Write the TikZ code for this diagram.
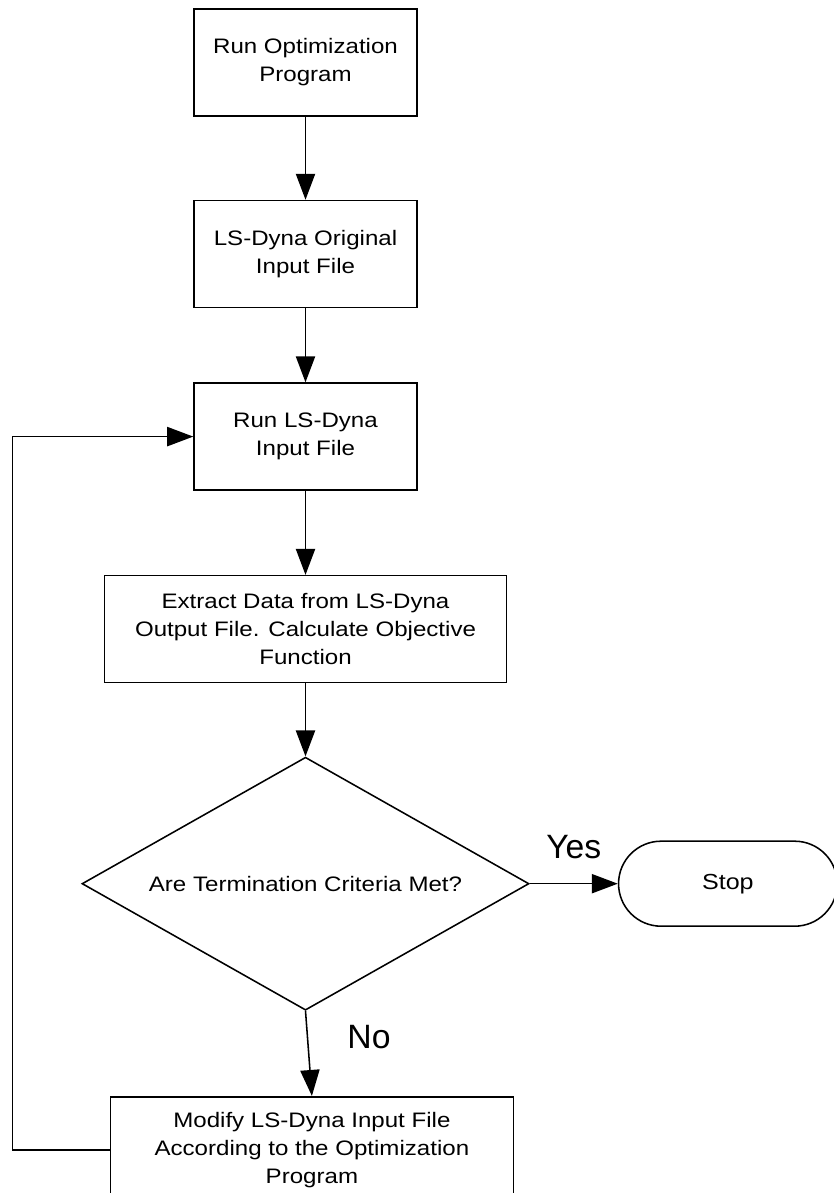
\documentclass[tikz,border=0pt]{standalone}
\usepackage{fontspec}
\setmainfont{Liberation Sans}
\newfontfamily\boxfont[FakeStretch=1.15]{Liberation Sans}
\usepackage{tikz}
\usetikzlibrary{shapes.geometric, shapes.misc, arrows.meta, positioning}

\begin{document}
\begin{tikzpicture}[
    stepbox/.style={draw, line width=1.1pt, minimum width=5.575cm,
                    minimum height=2.675cm, align=center, inner sep=2pt,
                    font=\boxfont\fontsize{14.9}{19.9}\selectfont},
    widebox/.style={stepbox, minimum width=10.05cm},
    decision/.style={draw, diamond, line width=1.1pt, aspect=1.767,
                     minimum width=11.175cm, minimum height=6.325cm,
                     inner sep=1pt, font=\boxfont\fontsize{14.9}{19.9}\selectfont},
    terminal/.style={draw, rounded rectangle, line width=1.1pt,
                     minimum width=5.7cm, minimum height=2.125cm,
                     font=\boxfont\fontsize{15.5}{20}\selectfont},
    flow/.style={-{Triangle[length=0.65cm, width=0.48cm]}, line width=1.1pt},
    answer/.style={font=\fontsize{24}{28}\selectfont, inner sep=0pt}
]
    \useasboundingbox (0,0) rectangle (20.85,-29.825);

    \node[stepbox] (opt) at (7.6375,-1.5625) {Run Optimization\\Program};
    \node[stepbox, below=2.075cm of opt] (orig) {LS-Dyna Original\\Input File};
    \node[stepbox, below=1.85cm of orig] (run) {Run LS-Dyna\\Input File};
    \node[widebox, below=2.1cm of run] (extract)
        {Extract Data from LS-Dyna\\Output File. Calculate Objective\\Function};
    \node[decision, below=1.825cm of extract] (check) {Are Termination Criteria Met?};
    \node[terminal, right=2.2cm of check] (stop) {Stop};
    \node[widebox, below=2.125cm of check, xshift=0.16cm, minimum width=10.075cm] (modify)
        {Modify LS-Dyna Input File\\According to the Optimization\\Program};

    \draw[flow] (opt) -- (orig);
    \draw[flow] (orig) -- (run);
    \draw[flow] (run) -- (extract);
    \draw[flow] (extract) -- (check);
    \draw[flow] (check.east) -- node[answer, midway, above=0.6cm] {Yes} (stop.west);
    \draw[flow] (check.south) -- node[answer, midway, right=0.95cm, yshift=0.42cm] {No} (modify.north);
    % back to the solver run
    \draw[flow] (modify.west) -- ++(-2.425,0) |- (run.west);
\end{tikzpicture}
\end{document}
